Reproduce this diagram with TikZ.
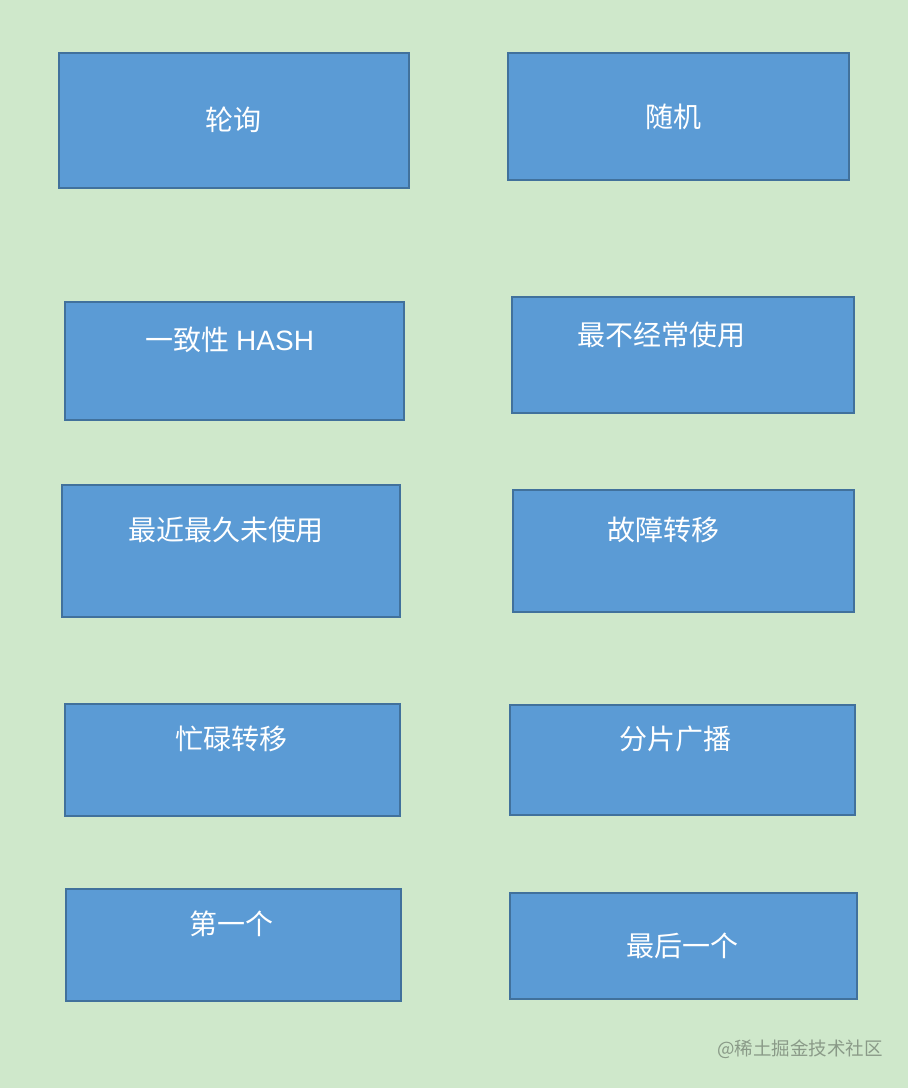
\documentclass[tikz,border=0pt]{standalone}
\usepackage{fontspec}
\newfontfamily\cjk{Noto Sans CJK SC}
\setmainfont{Liberation Sans}
\definecolor{bg}{HTML}{CFE8CB}
\definecolor{boxfill}{HTML}{5B9BD5}
\definecolor{boxline}{HTML}{41719C}
\definecolor{wm}{HTML}{8A9A88}
\begin{document}
\begin{tikzpicture}[x=1pt,y=-1pt,
  blk/.style={draw=boxline,fill=boxfill,line width=1.8pt,inner sep=0pt},
  lbl/.style={text=white,font=\fontsize{28}{32}\selectfont\cjk,inner sep=0pt}]
\fill[bg] (0,0) rectangle (908,1088);
\useasboundingbox (0,0) rectangle (908,1088);
\newcommand{\blkbox}[5]{%
  \node[blk,minimum width=#3-#1,minimum height=#4-#2] (#5) at ({(#1+#3)/2},{(#2+#4)/2}) {};}
\blkbox{59}{53}{409}{188}{b1}
\blkbox{508}{53}{849}{180}{b2}
\blkbox{65}{302}{404}{420}{b3}
\blkbox{512}{297}{854}{413}{b4}
\blkbox{62}{485}{400}{617}{b5}
\blkbox{513}{490}{854}{612}{b6}
\blkbox{65}{704}{400}{816}{b7}
\blkbox{510}{705}{855}{815}{b8}
\blkbox{66}{889}{401}{1001}{b9}
\blkbox{510}{893}{857}{999}{b10}
\node[lbl] (t1) at (233,120) {轮询};
\node[lbl] (t2) at (673,117) {随机};
\node[lbl] (t3) at (230,340) {一致性 {\rmfamily HASH}};
\node[lbl] (t4) at (661,335) {最不经常使用};
\node[lbl] (t5) at (226,530) {最近最久未使用};
\node[lbl] (t6) at (663,530) {故障转移};
\node[lbl] (t7) at (231,739) {忙碌转移};
\node[lbl] (t8) at (675,739) {分片广播};
\node[lbl] (t9) at (231,924) {第一个};
\node[lbl] (t10) at (682,946) {最后一个};
\node[text=wm,font=\fontsize{18.5}{22}\selectfont\cjk,inner sep=0pt] (wmk) at (800,1049) {@稀土掘金技术社区};
\end{tikzpicture}
\end{document}
